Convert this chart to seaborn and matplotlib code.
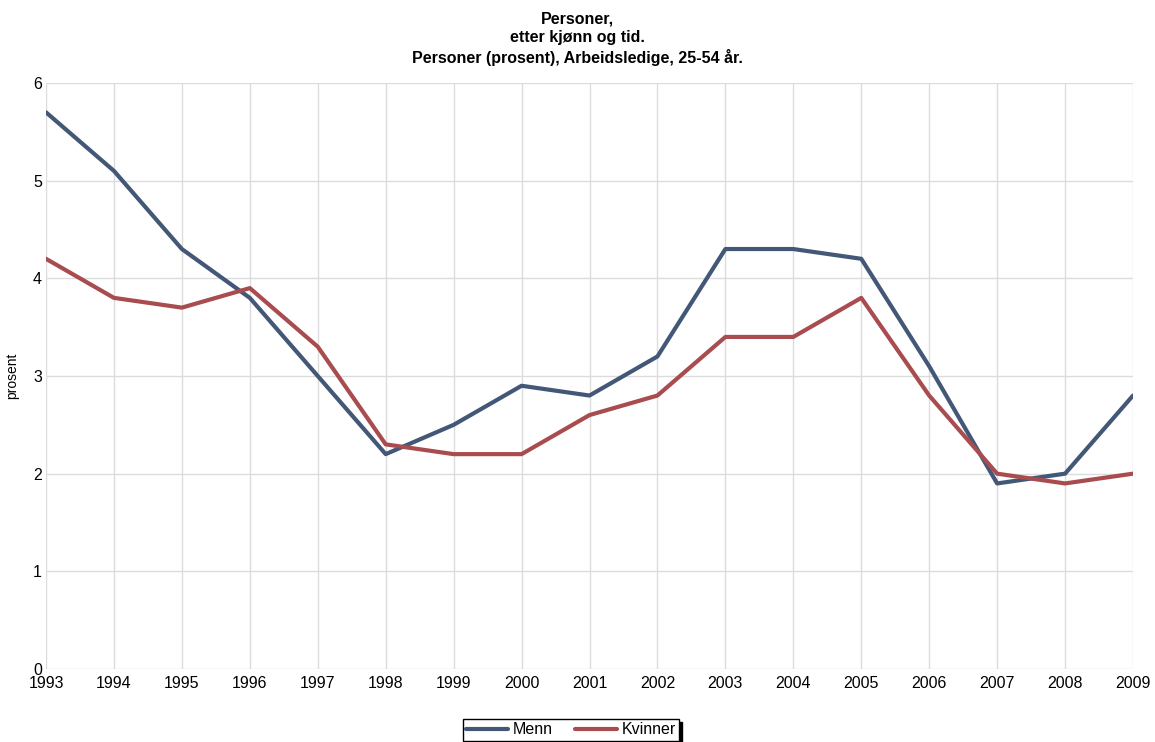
import pandas as pd
import numpy as np
import matplotlib.pyplot as plt
import seaborn as sns

years = list(range(1993, 2010))
menn = [5.7, 5.1, 4.3, 3.8, 3.0, 2.2, 2.5, 2.9, 2.8, 3.2, 4.3, 4.3, 4.2, 3.1, 1.9, 2.0, 2.8]
kvinner = [4.2, 3.8, 3.7, 3.9, 3.3, 2.3, 2.2, 2.2, 2.6, 2.8, 3.4, 3.4, 3.8, 2.8, 2.0, 1.9, 2.0]

df = pd.DataFrame({'år': years * 2,
                   'prosent': menn + kvinner,
                   'kjønn': ['Menn'] * len(years) + ['Kvinner'] * len(years)})

sns.set_style('white')
plt.rcParams['font.family'] = ['Liberation Sans', 'DejaVu Sans']
plt.rcParams['text.color'] = 'black'
plt.rcParams['xtick.color'] = 'black'
plt.rcParams['ytick.color'] = 'black'
plt.rcParams['axes.labelcolor'] = 'black'

fig = plt.figure(figsize=(11.55, 7.42), dpi=100)
ax = fig.add_axes([46 / 1155, 1 - 669 / 742, (1133 - 46) / 1155, (669 - 83) / 742])

sns.lineplot(data=df, x='år', y='prosent', hue='kjønn',
             palette={'Menn': '#435777', 'Kvinner': '#a94c50'},
             linewidth=3, ax=ax)

ax.set_xlim(1993, 2009)
ax.set_ylim(0, 6)
ax.set_xticks(years)
ax.set_yticks(range(0, 7))
ax.grid(True, color='#dcdcdc', linewidth=1)
for s in ax.spines.values():
    s.set_visible(False)
ax.tick_params(axis='both', length=0, labelsize=11.5)
ax.tick_params(axis='x', pad=5)
ax.tick_params(axis='y', pad=3)
ax.set_xlabel('')
ax.set_ylabel('prosent', fontsize=10, labelpad=10)

fig.suptitle('Personer,\netter kjønn og tid.\nPersoner (prosent), Arbeidsledige, 25-54 år.',
             fontsize=11.5, fontweight='bold', y=0.985, linespacing=1.3)

h, l = ax.get_legend_handles_labels()
ax.legend_.remove()
leg = fig.legend(h, l, loc='center', bbox_to_anchor=(571 / 1155, 1 - 730 / 742),
                 ncol=2, frameon=True, fancybox=False, fontsize=11.5,
                 handlelength=2.6, columnspacing=1.4, handletextpad=0.3,
                 borderpad=0.2, shadow={'color': 'black', 'alpha': 1})
leg.get_frame().set_edgecolor('black')
leg.get_frame().set_linewidth(1)

fig.savefig('out.png', dpi=100)
